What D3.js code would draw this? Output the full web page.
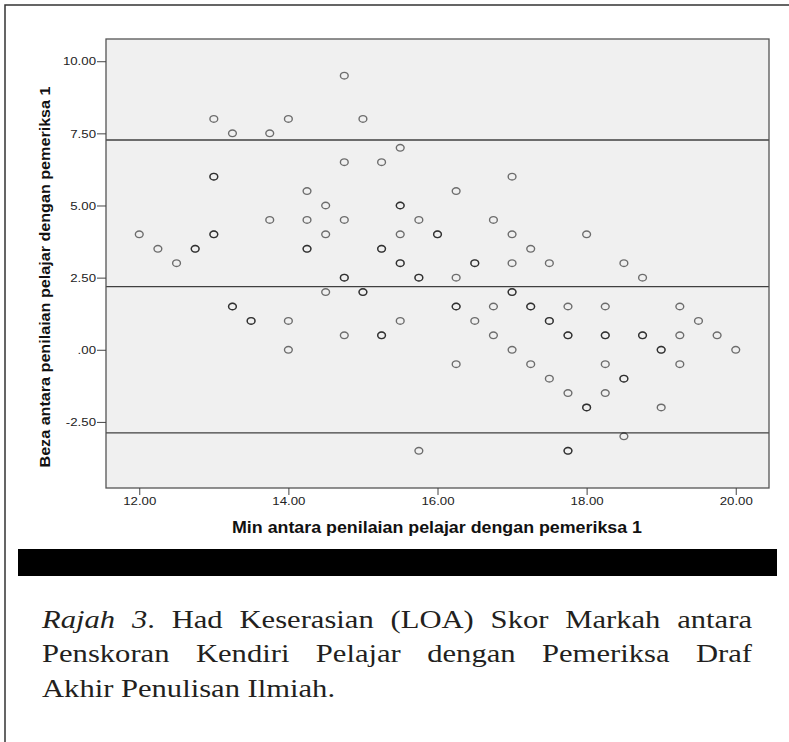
<!DOCTYPE html>
<html><head><meta charset="utf-8">
<script src="https://cdn.jsdelivr.net/npm/d3@7"></script>
<style>body{margin:0;background:#fff}svg{display:block}</style>
</head><body>
<svg id="c" width="789" height="742"></svg>
<script>
// Bland-Altman points: x = mean score, y = difference (overlapping observations repeated)
const xValues = [
  12.00, 12.25, 12.50, 12.75, 12.75,
  13.00, 13.00, 13.00, 13.00, 13.00,
  13.25, 13.25, 13.25, 13.50, 13.50,
  13.75, 13.75, 14.00, 14.00, 14.00,
  14.25, 14.25, 14.25, 14.25, 14.50, 14.50, 14.50,
  14.75, 14.75, 14.75, 14.75, 14.75, 14.75,
  15.00, 15.00, 15.00,
  15.25, 15.25, 15.25, 15.25, 15.25,
  15.50, 15.50, 15.50, 15.50, 15.50, 15.50, 15.50,
  15.75, 15.75, 15.75, 15.75,
  16.00, 16.00,
  16.25, 16.25, 16.25, 16.25, 16.25,
  16.50, 16.50, 16.50,
  16.75, 16.75, 16.75,
  17.00, 17.00, 17.00, 17.00, 17.00, 17.00,
  17.25, 17.25, 17.25, 17.25,
  17.50, 17.50, 17.50, 17.50,
  17.75, 17.75, 17.75, 17.75, 17.75, 17.75,
  18.00, 18.00, 18.00,
  18.25, 18.25, 18.25, 18.25, 18.25,
  18.50, 18.50, 18.50, 18.50,
  18.75, 18.75, 18.75,
  19.00, 19.00, 19.00,
  19.25, 19.25, 19.25,
  19.50, 19.75, 20.00
];
const yValues = [
  4.0, 3.5, 3.0, 3.5, 3.5,
  8.0, 6.0, 6.0, 4.0, 4.0,
  7.5, 1.5, 1.5, 1.0, 1.0,
  7.5, 4.5, 8.0, 1.0, 0.0,
  5.5, 4.5, 3.5, 3.5, 5.0, 4.0, 2.0,
  9.5, 6.5, 4.5, 2.5, 2.5, 0.5,
  8.0, 2.0, 2.0,
  6.5, 3.5, 3.5, 0.5, 0.5,
  7.0, 5.0, 5.0, 4.0, 3.0, 3.0, 1.0,
  4.5, 2.5, 2.5, -3.5,
  4.0, 4.0,
  5.5, 2.5, 1.5, 1.5, -0.5,
  3.0, 3.0, 1.0,
  4.5, 1.5, 0.5,
  6.0, 4.0, 3.0, 2.0, 2.0, 0.0,
  3.5, 1.5, 1.5, -0.5,
  3.0, 1.0, 1.0, -1.0,
  1.5, 0.5, 0.5, -1.5, -3.5, -3.5,
  4.0, -2.0, -2.0,
  1.5, 0.5, 0.5, -0.5, -1.5,
  3.0, -1.0, -1.0, -3.0,
  2.5, 0.5, 0.5,
  0.0, 0.0, -2.0,
  1.5, 0.5, -0.5,
  1.0, 0.5, 0.0
];
const xTicks = [12, 14, 16, 18, 20];
const yTicks = [-2.5, 0, 2.5, 5, 7.5, 10];
const refLines = [7.27, 2.19, -2.88]; // upper LOA, mean difference, lower LOA
const xTitle = "Min antara penilaian pelajar dengan pemeriksa 1";
const yTitle = "Beza antara penilaian pelajar dengan pemeriksa 1";
const captionLines = [
  "*Rajah* *3*. Had Keserasian (LOA) Skor Markah antara",
  "Penskoran Kendiri Pelajar dengan Pemeriksa Draf",
  "Akhir Penulisan Ilmiah."
];

const svg = d3.select("#c");
const P = {left: 106, right: 769, top: 39, bottom: 488};
const x = d3.scaleLinear().domain([11.554, 20.446]).range([P.left, P.right]);
const y = d3.scaleLinear().domain([-4.79, 10.77]).range([P.bottom, P.top]);
const fmt = d => d === 0 ? ".00" : (d < 0 ? "-" : "") + Math.abs(d).toFixed(2);
const SANS = "'Liberation Sans', Arial, sans-serif";

// outer frame
svg.append("path").attr("d", "M5,742V5H789").attr("fill", "none")
  .attr("stroke", "#333").attr("stroke-width", 1.5);

// plot background
svg.append("rect").attr("x", P.left).attr("y", P.top)
  .attr("width", P.right - P.left).attr("height", P.bottom - P.top)
  .attr("fill", "#f0f0f0");

// reference lines
svg.append("g").selectAll("line").data(refLines).join("line")
  .attr("x1", P.left).attr("x2", P.right)
  .attr("y1", d => y(d)).attr("y2", d => y(d))
  .attr("stroke", "#404040").attr("stroke-width", 1.3);

// points
svg.append("g").selectAll("ellipse").data(xValues.map((v, i) => [v, yValues[i]])).join("ellipse")
  .attr("cx", d => x(d[0])).attr("cy", d => y(d[1]))
  .attr("rx", 3.9).attr("ry", 3.3)
  .attr("fill", "none").attr("stroke", "#000").attr("stroke-opacity", 0.55)
  .attr("stroke-width", 1.4);

// plot border
svg.append("rect").attr("x", P.left).attr("y", P.top)
  .attr("width", P.right - P.left).attr("height", P.bottom - P.top)
  .attr("fill", "none").attr("stroke", "#555").attr("stroke-width", 1.3);

function stretch(sel, k) {
  sel.each(function() {
    const w = this.getComputedTextLength();
    d3.select(this).attr("textLength", w * k).attr("lengthAdjust", "spacingAndGlyphs");
  });
}

// y axis
const gy = svg.append("g").attr("transform", `translate(${P.left},0)`)
  .call(d3.axisLeft(y).tickValues(yTicks).tickFormat(fmt).tickSize(9).tickPadding(1));
gy.select(".domain").remove();
gy.selectAll(".tick line").attr("stroke", "#444");
gy.selectAll(".tick text").attr("font-family", SANS).attr("font-size", 11.5).attr("fill", "#222");
stretch(gy.selectAll(".tick text"), 1.15);

// x axis
const gx = svg.append("g").attr("transform", `translate(0,${P.bottom})`)
  .call(d3.axisBottom(x).tickValues(xTicks).tickFormat(fmt).tickSize(7).tickPadding(2));
gx.select(".domain").remove();
gx.selectAll(".tick line").attr("stroke", "#444");
gx.selectAll(".tick text").attr("font-family", SANS).attr("font-size", 11.5).attr("fill", "#222");
stretch(gx.selectAll(".tick text"), 1.15);

// axis titles
svg.append("text").attr("x", 232).attr("y", 533)
  .attr("font-family", SANS).attr("font-weight", "bold").attr("font-size", 16)
  .attr("fill", "#111").attr("textLength", 410).attr("lengthAdjust", "spacingAndGlyphs")
  .text(xTitle);
svg.append("text").attr("transform", "translate(50,277) rotate(-90)")
  .attr("text-anchor", "middle")
  .attr("font-family", SANS).attr("font-weight", "bold").attr("font-size", 14.7)
  .attr("fill", "#111").attr("textLength", 381).attr("lengthAdjust", "spacingAndGlyphs")
  .text(yTitle);

// black bar
svg.append("rect").attr("x", 18).attr("y", 549).attr("width", 759).attr("height", 27).attr("fill", "#000");

// caption (justified, horizontally stretched serif)
const SX = 1.26, CAP_LEFT = 42, CAP_RIGHT = 752;
const baselines = [628, 662.5, 697];
const cap = svg.append("g").attr("transform", `translate(${CAP_LEFT},0) scale(${SX},1)`);
captionLines.forEach((line, li) => {
  const words = line.split(" ");
  const nodes = words.map(w => {
    const t = cap.append("text").attr("y", baselines[li])
      .attr("font-family", "'Liberation Serif', 'Times New Roman', serif")
      .attr("font-size", 24.3).attr("fill", "#231f20");
    w.split(/(\*[^*]+\*)/).filter(s => s.length).forEach(seg => {
      const it = seg.startsWith("*");
      t.append("tspan").attr("font-style", it ? "italic" : "normal").text(it ? seg.slice(1, -1) : seg);
    });
    return t;
  });
  const widths = nodes.map(n => n.node().getComputedTextLength());
  const total = d3.sum(widths);
  const avail = (CAP_RIGHT - CAP_LEFT) / SX;
  const justify = li < captionLines.length - 1;
  const space = 6;
  const gap = justify ? (avail - total) / (words.length - 1) : space;
  let cx = 0;
  nodes.forEach((n, i) => { n.attr("x", cx); cx += widths[i] + gap; });
});
</script>
</body></html>
